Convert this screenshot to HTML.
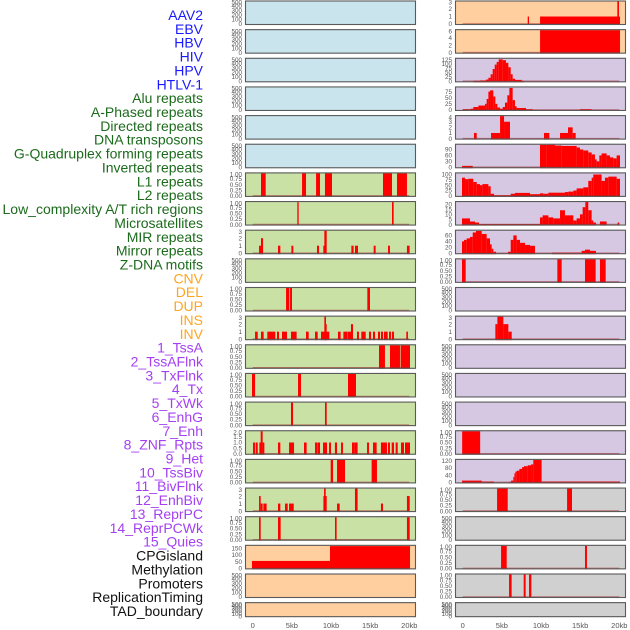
<!DOCTYPE html>
<html><head><meta charset="utf-8"><style>
html,body{margin:0;padding:0;background:#fff;width:630px;height:630px;overflow:hidden}
svg{display:block}
</style></head><body>
<svg id="chart" width="630" height="630" xmlns="http://www.w3.org/2000/svg"></svg>
<script>
const trackLabels = ["AAV2","EBV","HBV","HIV","HPV","HTLV-1","Alu repeats","A-Phased repeats","Directed repeats","DNA transposons","G-Quadruplex forming repeats","Inverted repeats","L1 repeats","L2 repeats","Low_complexity A/T rich regions","Microsatellites","MIR repeats","Mirror repeats","Z-DNA motifs","CNV","DEL","DUP","INS","INV","1_TssA","2_TssAFlnk","3_TxFlnk","4_Tx","5_TxWk","6_EnhG","7_Enh","8_ZNF_Rpts","9_Het","10_TssBiv","11_BivFlnk","12_EnhBiv","13_ReprPC","14_ReprPCWk","15_Quies","CPGisland","Methylation","Promoters","ReplicationTiming","TAD_boundary"];
const labelColors = ["#1a1aff","#1a1aff","#1a1aff","#1a1aff","#1a1aff","#1a1aff","#1c6b1c","#1c6b1c","#1c6b1c","#1c6b1c","#1c6b1c","#1c6b1c","#1c6b1c","#1c6b1c","#1c6b1c","#1c6b1c","#1c6b1c","#1c6b1c","#1c6b1c","#ffa520","#ffa520","#ffa520","#ffa520","#ffa520","#a440f2","#a440f2","#a440f2","#a440f2","#a440f2","#a440f2","#a440f2","#a440f2","#a440f2","#a440f2","#a440f2","#a440f2","#a440f2","#a440f2","#a440f2","#111","#111","#111","#111","#111"];
const xTickValues = [0,5,10,15,20];
const xTickLabels = ["0","5kb","10kb","15kb","20kb"];
const T500 = [0,100,200,300,400,500];
const T01 = [0,0.25,0.5,0.75,1];
const T3 = [0,1,2,3];
// step-series helper inputs
const R2_edges=[1.36,2.21,2.98,3.28,3.57,3.83,4.09,4.34,4.60,5.11,5.53,5.83,6.13,6.38,6.68,7.53,7.83];
const R2_vals=[3,5,10,20,40,70,95,110,125,120,105,80,40,15,8,3];
const R3_edges=[0,1.02,1.36,2.0,2.85,3.06,3.28,3.49,3.91,4.17,4.43,4.77,5.11,5.4,5.7,5.96,6.38,6.68,6.89,8.09,8.94];
const R3_vals=[3,5,12,18,25,45,75,80,55,25,10,5,12,30,60,90,40,15,8,3];
const R5_edges=[9.87,10.72,11.79,12.64,14.55,14.98,15.40,16.04,16.47,16.89,17.11,17.45,17.74,18.38,18.81,19.23,19.66,20.09];
const R5_vals=[114,114,110,108,100,90,85,75,65,40,30,60,70,60,50,45,60];
const R6_edges=[-0.09,0.30,0.72,1.36,1.79,2.21,2.51,3.28,3.57,4.0,6.13,6.68,8.6,9.87,10.3,10.94,13.06,13.49,14.13,14.55,15.4,16.04,16.47,16.68,17.74,18.17,18.6,19.66,20.09];
const R6_vals=[85,78,80,65,55,50,55,45,10,3,10,14,8,12,10,15,18,20,25,35,40,70,85,100,70,85,90,80];
const R7_edges=[-0.09,0.93,1.57,2.08,9.87,10.21,10.94,11.57,12.43,13.06,14.13,14.55,14.98,15.32,15.66,16.04,16.47,16.68,17.02];
const R7_vals=[6,3,2,0.5,7,9,7,6,14,9,4,6,10,17,22,14,4,2];
const R8a_edges=[-0.09,0.17,0.51,0.93,1.28,1.7,2.43,3.06,3.49,3.7,3.91,4.26];
const R8a_vals=[40,45,50,55,70,75,65,50,30,15,5];
const R8b_edges=[5.79,6.13,6.47,6.89,7.32,7.96,8.6,9.23];
const R8b_vals=[5,45,60,45,35,28,25];
const R8c_edges=[11.4,15.19,15.62,16.26,17.02];
const R8c_vals=[2,8,12,8];
const R16_edges=[-0.09,2.43,4.0,5.96,6.18,6.47,6.6,6.73,6.9,7.24,7.58,7.83,8.3,8.73,9.02,10.08,20.1];
const R16_vals=[10,5,0,3,10,30,50,60,65,75,85,90,95,100,125,5];
// bar segments [startKb, endKb, value]
const L6_segs=[[1.06,1.66,1],[6.3,6.81,1],[8.09,8.6,1],[9.23,10.13,1],[16.64,17.79,1],[18.43,19.7,1]];
const L7_segs=[[5.7,5.87,1],[17.79,18.0,1]];
const L8_segs=[[0.81,1.32,1],[1.06,1.32,2],[3.23,3.53,1],[4.94,5.19,1],[8.21,8.47,1],[9.02,9.28,1],[9.15,9.45,3],[12.6,12.89,1],[13.06,13.45,1],[15.45,15.7,1],[17.28,17.53,1],[19.7,20.04,1]];
const L10_segs=[[4.26,4.68,1],[4.77,5.02,1],[14.64,14.98,1]];
const L11_segs=[[0.3,0.64,1],[1.06,1.4,1],[1.87,2.89,1],[3.1,3.36,1],[3.74,4.38,1],[4.89,5.61,1],[6.81,7.15,1],[7.96,8.3,1],[8.72,9.79,1],[9.28,9.45,2],[9.15,9.36,3],[10.89,11.23,1],[11.58,12.13,1],[12.17,12.72,1],[12.55,12.81,2],[13.32,13.57,1],[13.87,14.43,1],[14.85,15.11,1],[15.36,15.62,1],[16.0,16.26,1],[16.38,16.64,1],[16.77,17.24,1],[17.41,17.66,1],[17.79,18.05,1],[19.62,19.83,1]];
const L12_segs=[[16.13,16.89,1],[17.53,18.81,1],[18.89,20.09,1]];
const L13_segs=[[-0.09,0.3,1],[5.79,6.17,1],[12.17,13.19,1]];
const L14_segs=[[4.89,5.15,1],[9.23,9.45,1]];
const L15_segs=[[0.04,0.29,1],[0.38,0.64,1],[0.85,1.27,1],[1.02,1.27,2],[1.27,1.49,1],[3.23,3.53,1],[4.64,5.28,1],[6.55,6.89,1],[7.96,8.26,1],[8.3,8.6,1],[8.98,9.49,1],[9.75,10.0,1],[10.5,10.77,1],[11.28,11.53,1],[12.68,12.98,1],[12.98,13.4,1],[14.6,14.85,1],[15.36,15.83,1],[16.38,17.15,1],[17.28,17.53,1],[17.75,18.05,1],[18.26,18.52,1],[18.94,19.32,1],[19.45,20.09,1]];
const L16_segs=[[9.96,10.26,1],[10.77,11.79,1],[15.19,15.87,1]];
const L17_segs=[[0.81,1.02,2],[1.02,1.27,1],[1.36,1.78,1],[3.23,3.53,1],[4.13,4.47,1],[4.64,5.24,1],[9.03,9.45,2],[9.11,9.32,3],[10.77,11.11,1],[13.06,13.4,3],[16.38,16.64,1],[19.7,20.05,2]];
const L18_segs=[[0.81,1.02,1],[3.23,3.57,1],[10.51,10.72,1],[19.7,20.05,1]];
const L19_segs=[[-0.09,9.87,55],[9.87,20.09,165]];
const R0_segs=[[8.3,8.47,1],[9.88,20.09,1],[19.75,19.96,3]];
const R1_segs=[[9.88,20.09,6]];
const R4_segs=[[1.44,1.79,1],[3.62,4.77,1],[4.77,5.28,4],[5.28,6.04,3],[10.38,11.06,1],[12.43,13.45,1],[13.45,14.04,2],[14.04,14.43,1]];
const R5_extra=[[-0.09,1.28,7]];
const R7_extra=[[17.53,18.38,3],[19.79,20.0,2]];
const R9_segs=[[-0.09,0.38,1],[12.09,12.64,1],[15.62,16.98,1],[17.53,18.26,1]];
const R11_segs=[[4.17,4.43,2],[4.43,5.19,3],[5.19,5.83,2],[5.83,6.26,1]];
const R15_segs=[[-0.07,2.23,1]];
const R17_segs=[[4.39,5.75,1],[13.33,13.96,1]];
const R19_segs=[[4.9,5.62,1],[15.62,15.87,1]];
const R20_segs=[[5.92,6.25,1],[7.79,8.04,1],[8.47,8.77,1]];

function step(edges, vals){const o=[];for(let i=0;i<vals.length;i++){if(vals[i]>0)o.push([edges[i],edges[i+1],vals[i]]);}return o;}

const BLUE="#c9e4ec",GREEN="#c9e1a5",ORANGE="#ffcf9f",PURPLE="#d6c7e2",GREY="#d0d0d0";
function fmt2(t){return t.toFixed(2);}
function fmt1(t){return t.toFixed(1);}
function fmt0(t){return String(t);}
const leftPanels=[
 {bg:BLUE,ticks:T500,max:500,f:fmt0,segs:[]},
 {bg:BLUE,ticks:T500,max:500,f:fmt0,segs:[]},
 {bg:BLUE,ticks:T500,max:500,f:fmt0,segs:[]},
 {bg:BLUE,ticks:T500,max:500,f:fmt0,segs:[]},
 {bg:BLUE,ticks:T500,max:500,f:fmt0,segs:[]},
 {bg:BLUE,ticks:T500,max:500,f:fmt0,segs:[]},
 {bg:GREEN,ticks:T01,max:1,f:fmt2,segs:L6_segs},
 {bg:GREEN,ticks:T01,max:1,f:fmt2,segs:L7_segs},
 {bg:GREEN,ticks:T3,max:3,f:fmt0,segs:L8_segs},
 {bg:GREEN,ticks:T500,max:500,f:fmt0,segs:[]},
 {bg:GREEN,ticks:T01,max:1,f:fmt2,segs:L10_segs},
 {bg:GREEN,ticks:T3,max:3,f:fmt0,segs:L11_segs},
 {bg:GREEN,ticks:T01,max:1,f:fmt2,segs:L12_segs},
 {bg:GREEN,ticks:T01,max:1,f:fmt2,segs:L13_segs},
 {bg:GREEN,ticks:T01,max:1,f:fmt2,segs:L14_segs},
 {bg:GREEN,ticks:[0,0.5,1,1.5,2],max:2,f:fmt1,segs:L15_segs},
 {bg:GREEN,ticks:T01,max:1,f:fmt2,segs:L16_segs},
 {bg:GREEN,ticks:T3,max:3,f:fmt0,segs:L17_segs},
 {bg:GREEN,ticks:T01,max:1,f:fmt2,segs:L18_segs},
 {bg:ORANGE,ticks:[0,50,100,150],max:167,f:fmt0,segs:L19_segs},
 {bg:ORANGE,ticks:T500,max:500,f:fmt0,segs:[]},
 {bg:ORANGE,ticks:T500,max:500,f:fmt0,segs:[]}
];
const rightPanels=[
 {bg:ORANGE,ticks:T3,max:3,f:fmt0,segs:R0_segs},
 {bg:ORANGE,ticks:[0,2,4,6],max:6,f:fmt0,segs:R1_segs},
 {bg:PURPLE,ticks:[0,25,50,75,100,125],max:128,f:fmt0,segs:step(R2_edges,R2_vals)},
 {bg:PURPLE,ticks:[0,25,50,75],max:92,f:fmt0,segs:step(R3_edges,R3_vals).concat([[14.98,16.47,3]])},
 {bg:PURPLE,ticks:[0,1,2,3,4],max:4,f:fmt0,segs:R4_segs},
 {bg:PURPLE,ticks:[0,30,60,90],max:114,f:fmt0,segs:R5_extra.concat(step(R5_edges,R5_vals))},
 {bg:PURPLE,ticks:[0,25,50,75,100],max:105,f:fmt0,segs:step(R6_edges,R6_vals)},
 {bg:PURPLE,ticks:[0,5,10,15,20],max:22,f:fmt0,segs:step(R7_edges,R7_vals).concat(R7_extra)},
 {bg:PURPLE,ticks:[0,20,40,60],max:76,f:fmt0,segs:step(R8a_edges,R8a_vals).concat(step(R8b_edges,R8b_vals),step(R8c_edges,R8c_vals))},
 {bg:PURPLE,ticks:T01,max:1,f:fmt2,segs:R9_segs},
 {bg:PURPLE,ticks:T500,max:500,f:fmt0,segs:[]},
 {bg:PURPLE,ticks:T3,max:3,f:fmt0,segs:R11_segs},
 {bg:PURPLE,ticks:T500,max:500,f:fmt0,segs:[]},
 {bg:PURPLE,ticks:T500,max:500,f:fmt0,segs:[]},
 {bg:PURPLE,ticks:T500,max:500,f:fmt0,segs:[]},
 {bg:PURPLE,ticks:T01,max:1,f:fmt2,segs:R15_segs},
 {bg:PURPLE,ticks:[0,40,80,120],max:125,f:fmt0,segs:step(R16_edges,R16_vals)},
 {bg:GREY,ticks:T01,max:1,f:fmt2,segs:R17_segs},
 {bg:GREY,ticks:T500,max:500,f:fmt0,segs:[]},
 {bg:GREY,ticks:T01,max:1,f:fmt2,segs:R19_segs},
 {bg:GREY,ticks:T01,max:1,f:fmt2,segs:R20_segs},
 {bg:GREY,ticks:T500,max:500,f:fmt0,segs:[]}
];

const NS="http://www.w3.org/2000/svg";
const svg=document.getElementById('chart');
function mk(tag,attrs,parent){const e=document.createElementNS(NS,tag);for(const k in attrs)e.setAttribute(k,attrs[k]);(parent||svg).appendChild(e);return e;}

// labels
trackLabels.forEach((t,i)=>{
  const e=mk('text',{x:203,y:20+i*13.86,'text-anchor':'end','font-family':'Liberation Sans, sans-serif','font-size':'14',fill:labelColors[i]});
  e.textContent=t;
  
  
});

const PITCH=28.65, H=24.5, PW=171;
function drawColumn(panels,left,colName){
  const xs=kb=>left+7.7+kb*7.83;
  panels.forEach((p,i)=>{
    const top=0.5+i*PITCH, h=(i===21?15:H), bottom=top+h;
    const g=mk('g',{});
    
    
    mk('rect',{x:left,y:top,width:PW,height:h,fill:p.bg},g);
    const ys=v=>bottom-1-(v/p.max)*(h-2);
    p.segs.forEach(s=>{
      const y=Math.max(top,ys(s[2]));
      const r=mk('rect',{x:xs(s[0]),y:y,width:Math.max(0.8,xs(s[1])-xs(s[0])),height:bottom-y,fill:'#ff0000'},g);
      
      
    });
    if(p.segs.length){mk('line',{x1:xs(0),x2:xs(20),y1:bottom-1,y2:bottom-1,stroke:'rgba(170,30,30,0.55)','stroke-width':1.5},g);}
    mk('rect',{x:left+0.5,y:top+0.5,width:PW-1,height:h-1,fill:'none',stroke:'#5a5a5a','stroke-width':1.1},g);
    p.ticks.forEach(t=>{
      const ty=Math.min(bottom-1,Math.max(top+2,ys(t)));
      const e=mk('text',{x:left-3,y:ty+2.2,'text-anchor':'end','font-family':'Liberation Sans, sans-serif','font-size':'6.3',fill:'#555'},g);
      e.textContent=p.f(t);
      
      
    });
  });
  xTickValues.forEach((v,j)=>{
    const e=mk('text',{x:xs(v),y:628,'text-anchor':'middle','font-family':'Liberation Sans, sans-serif','font-size':'7.5',fill:'#555'});
    e.textContent=xTickLabels[j];
    
    
  });
}
drawColumn(leftPanels,245,'left');
drawColumn(rightPanels,455,'right');
</script>
</body></html>
